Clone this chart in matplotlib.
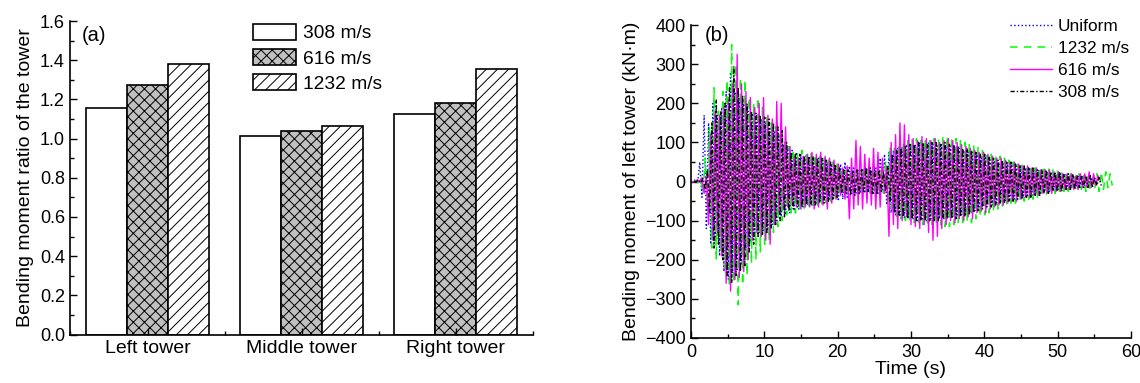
import numpy as np
import matplotlib
matplotlib.use("Agg")
import matplotlib.pyplot as plt
from matplotlib.ticker import MultipleLocator, FormatStrFormatter

plt.rcParams['font.family'] = ['Liberation Sans', 'DejaVu Sans']
plt.rcParams['font.size'] = 13
plt.rcParams['hatch.linewidth'] = 0.7

# ---- panel (a): bending moment ratio ----
towers = ['Left tower', 'Middle tower', 'Right tower']
ratio_308 = [1.155, 1.015, 1.125]
ratio_616 = [1.275, 1.040, 1.180]
ratio_1232 = [1.380, 1.065, 1.355]

# ---- panel (b): peak values of each cycle (kN·m), one cycle = 0.6 s ----
period = 0.6
uniform_up = [0, 5, 50, 170, 150, 200, 170, 190, 230, 280, 230, 215, 200, 180, 175, 170, 160, 150, 140, 130,
              115, 95, 85, 80, 75, 70, 65, 65, 60, 60, 55, 50, 45, 40, 45, 50, 40, 35, 30, 30,
              35, 30, 35, 60, 70, 75, 80, 85, 90, 95, 95, 95, 100, 95, 100, 95, 95, 95, 90, 90,
              90, 85, 80, 80, 75, 70, 65, 65, 60, 55, 50, 50, 45, 45, 40, 40, 35, 35, 30, 30,
              25, 25, 25, 20, 20, 20, 15, 15, 15, 15, 10, 10]
uniform_lo = [0, -5, -40, -120, -160, -150, -190, -230, -250, -235, -225, -210, -175, -155, -140, -130, -125, -120, -110, -100,
              -90, -85, -80, -75, -70, -65, -60, -60, -55, -50, -45, -45, -40, -50, -45, -40, -35, -30, -30, -30,
              -25, -30, -30, -25, -60, -80, -85, -90, -95, -95, -95, -100, -100, -100, -95, -95, -95, -95, -90, -90,
              -90, -85, -80, -80, -75, -70, -65, -60, -60, -55, -50, -50, -45, -45, -40, -40, -35, -35, -30, -30,
              -25, -25, -25, -20, -20, -20, -15, -15, -15, -10, -10, -10]
v1232_up = [0, 2, 5, 60, 140, 240, 180, 230, 260, 350, 300, 265, 260, 215, 200, 215, 190, 170, 150, 140,
            120, 100, 90, 80, 75, 80, 75, 75, 70, 65, 60, 55, 50, 45, 35, 30, 25, 25, 25, 30,
            30, 30, 25, 30, 50, 90, 85, 95, 100, 105, 110, 110, 105, 110, 105, 110, 110, 115, 115, 115,
            110, 105, 100, 95, 95, 90, 80, 75, 70, 65, 65, 60, 55, 50, 45, 45, 40, 40, 35, 35,
            40, 35, 30, 30, 25, 25, 20, 20, 20, 15, 15, 15, 20, 25, 25, 20]
v1232_lo = [0, -5, -30, -60, -170, -200, -180, -220, -270, -260, -315, -265, -240, -210, -200, -180, -160, -150, -130, -115,
            -100, -85, -80, -80, -75, -70, -70, -65, -60, -60, -55, -50, -45, -35, -30, -30, -25, -25, -25, -25,
            -30, -30, -30, -30, -60, -80, -90, -95, -100, -100, -105, -105, -110, -110, -110, -110, -110, -115, -115, -110,
            -105, -105, -100, -105, -95, -90, -85, -80, -75, -70, -65, -60, -55, -55, -50, -50, -45, -45, -40, -35,
            -35, -30, -30, -25, -25, -25, -20, -20, -20, -25, -25, -20, -25, -20, -15, -10]
v616_up = [0, 5, 10, 15, 120, 180, 170, 190, 210, 250, 325, 250, 230, 215, 190, 200, 215, 170, 160, 205,
           200, 140, 90, 65, 60, 65, 70, 75, 70, 75, 65, 60, 55, 45, 35, 40, 60, 105, 90, 70,
           60, 85, 75, 60, 40, 100, 120, 150, 145, 120, 110, 105, 115, 110, 105, 110, 100, 105, 110, 105,
           100, 95, 90, 85, 80, 75, 75, 70, 65, 60, 60, 55, 50, 50, 45, 40, 40, 35, 35, 30,
           30, 30, 25, 25, 20, 20, 20, 15, 20, 20, 25, 20, 15]
v616_lo = [0, -2, -30, -110, -150, -130, -190, -260, -280, -250, -245, -230, -200, -150, -130, -140, -150, -160, -110, -80,
           -70, -65, -60, -65, -70, -65, -65, -70, -65, -60, -70, -55, -45, -35, -45, -95, -70, -60, -70, -55,
           -60, -70, -65, -30, -140, -110, -120, -100, -90, -110, -115, -120, -110, -130, -150, -140, -120, -110, -100, -105,
           -95, -100, -90, -95, -80, -75, -80, -70, -65, -60, -60, -55, -50, -50, -45, -40, -40, -35, -35, -30,
           -30, -30, -25, -25, -20, -20, -20, -20, -15, -15, -15, -10, 5]
v308_up = [0, 5, 8, 30, 150, 210, 180, 200, 240, 295, 240, 220, 200, 180, 175, 170, 165, 160, 150, 140,
           130, 100, 75, 70, 70, 65, 65, 65, 60, 60, 55, 50, 45, 35, 30, 30, 25, 30, 30, 35,
           35, 30, 30, 25, 40, 70, 80, 85, 90, 95, 95, 100, 100, 95, 100, 100, 95, 100, 95, 95,
           90, 85, 85, 80, 75, 70, 70, 65, 60, 55, 55, 50, 50, 45, 40, 40, 35, 35, 30, 30,
           30, 25, 25, 25, 20, 20, 20, 15, 15, 15, 15, 10, 10]
v308_lo = [0, -3, -20, -80, -170, -160, -200, -240, -260, -240, -230, -215, -180, -160, -140, -135, -130, -120, -110, -100,
           -90, -75, -70, -65, -65, -60, -60, -60, -55, -55, -50, -45, -40, -30, -30, -35, -35, -30, -25, -25,
           -30, -30, -25, -25, -50, -80, -85, -90, -95, -95, -100, -100, -100, -100, -100, -100, -95, -95, -95, -95,
           -90, -90, -85, -80, -75, -70, -65, -65, -60, -55, -55, -50, -50, -45, -45, -40, -40, -35, -35, -30,
           -30, -25, -25, -25, -20, -20, -20, -15, -15, -15, -15, -10, -10]


def zigzag(up, lo, t0):
    # interleave the cycle maxima and minima on the time axis
    n = len(up)
    t = np.empty(2 * n)
    v = np.empty(2 * n)
    t[0::2] = t0 + np.arange(n) * period
    t[1::2] = t0 + np.arange(n) * period + period / 2
    v[0::2] = up
    v[1::2] = lo
    return t, v


fig = plt.figure(figsize=(11.4, 3.83), dpi=100)

# panel (a)
ax1 = fig.add_axes([0.0618, 0.1266, 0.4057, 0.8185])
x = np.arange(len(towers))
w = 0.266
ax1.bar(x - w, ratio_308, w, color='white', edgecolor='black', linewidth=1.2, label='308 m/s')
ax1.bar(x, ratio_616, w, color='#c0c0c0', edgecolor='black', linewidth=1.2, hatch='xxx', label='616 m/s')
ax1.bar(x + w, ratio_1232, w, color='white', edgecolor='black', linewidth=1.2, hatch='///', label='1232 m/s')
ax1.set_xlim(-0.5, 2.5)
ax1.set_ylim(0, 1.6)
ax1.set_xticks(x)
ax1.set_xticklabels(towers, fontsize=14)
ax1.xaxis.set_minor_locator(MultipleLocator(0.5))
ax1.yaxis.set_major_locator(MultipleLocator(0.2))
ax1.yaxis.set_minor_locator(MultipleLocator(0.1))
ax1.yaxis.set_major_formatter(FormatStrFormatter('%.1f'))
ax1.set_ylabel('Bending moment ratio of the tower', fontsize=14, labelpad=4)
ax1.text(0.025, 0.955, '(a)', transform=ax1.transAxes, va='center', ha='left', fontsize=14.5)
ax1.legend(loc='upper left', bbox_to_anchor=(0.395, 0.99), frameon=False, fontsize=13.8,
           handlelength=2.24, handleheight=0.86, labelspacing=0.35, handletextpad=0.36,
           borderpad=0, borderaxespad=0)

# panel (b)
ax2 = fig.add_axes([0.6061, 0.1175, 0.386, 0.8167])
t, v = zigzag(uniform_up, uniform_lo, 0.0)
ax2.plot(t, v, color='blue', linestyle=':', linewidth=1.0, label='Uniform')
t, v = zigzag(v1232_up, v1232_lo, 0.15)
ax2.plot(t, v, color='#00ff00', linestyle=(0, (5, 4)), linewidth=1.1, label='1232 m/s')
t, v = zigzag(v616_up, v616_lo, 0.3)
ax2.plot(t, v, color='magenta', linestyle='-', linewidth=1.0, label='616 m/s')
t, v = zigzag(v308_up, v308_lo, 0.45)
ax2.plot(t, v, color='black', linestyle=(0, (3, 1.5, 1, 1.5)), linewidth=1.0, label='308 m/s')
ax2.set_xlim(0, 60)
ax2.set_ylim(-400, 400)
ax2.xaxis.set_major_locator(MultipleLocator(10))
ax2.xaxis.set_minor_locator(MultipleLocator(5))
ax2.yaxis.set_major_locator(MultipleLocator(100))
ax2.yaxis.set_minor_locator(MultipleLocator(50))
ax2.set_xlabel('Time (s)', labelpad=0, fontsize=14)
ax2.set_ylabel('Bending moment of left tower (kN·m)', fontsize=14, labelpad=3)
ax2.text(0.032, 0.966, '(b)', transform=ax2.transAxes, va='center', ha='left', fontsize=14.5)
ax2.legend(loc='upper right', bbox_to_anchor=(0.995, 1.02), frameon=False, fontsize=12.4,
           handlelength=2.4, labelspacing=0.4, handletextpad=0.35, borderpad=0, borderaxespad=0)

for ax in (ax1, ax2):
    ax.spines['top'].set_visible(False)
    ax.spines['right'].set_visible(False)
    ax.spines['left'].set_linewidth(1.2)
    ax.spines['bottom'].set_linewidth(1.2)
    ax.tick_params(which='both', direction='in', width=1.0, labelsize=13)
    ax.tick_params(which='major', length=5, pad=4)
    ax.tick_params(which='minor', length=3)
ax1.tick_params(axis='x', labelsize=14)

fig.savefig('out.png', dpi=100)
